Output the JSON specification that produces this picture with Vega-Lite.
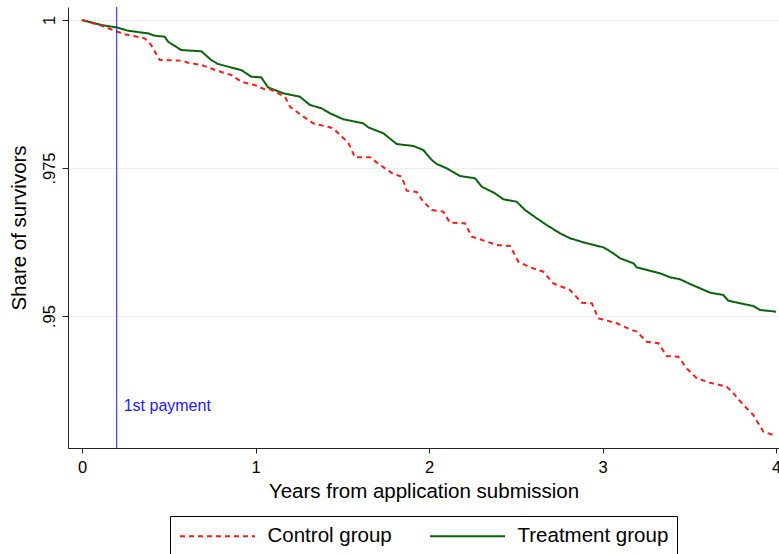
{
  "$schema": "https://vega.github.io/schema/vega-lite/v6.json",
  "autosize": {"type": "none"},
  "width": 711,
  "height": 441,
  "padding": {"left": 68, "top": 7, "right": 0, "bottom": 106},
  "background": "white",
  "config": {
    "view": {"stroke": null},
    "font": "Liberation Sans, Arial, sans-serif"
  },
  "datasets": {
    "curves": [
      {"group": "Treatment group", "x": 0, "y": 1.0},
      {"group": "Treatment group", "x": 0.111, "y": 0.99916},
      {"group": "Treatment group", "x": 0.207, "y": 0.9987},
      {"group": "Treatment group", "x": 0.265, "y": 0.99819},
      {"group": "Treatment group", "x": 0.38, "y": 0.99775},
      {"group": "Treatment group", "x": 0.419, "y": 0.99735},
      {"group": "Treatment group", "x": 0.477, "y": 0.99718},
      {"group": "Treatment group", "x": 0.496, "y": 0.99633},
      {"group": "Treatment group", "x": 0.572, "y": 0.99493},
      {"group": "Treatment group", "x": 0.688, "y": 0.99471},
      {"group": "Treatment group", "x": 0.745, "y": 0.99324},
      {"group": "Treatment group", "x": 0.784, "y": 0.99257},
      {"group": "Treatment group", "x": 0.918, "y": 0.99155},
      {"group": "Treatment group", "x": 0.976, "y": 0.99042},
      {"group": "Treatment group", "x": 1.033, "y": 0.99032},
      {"group": "Treatment group", "x": 1.072, "y": 0.98863},
      {"group": "Treatment group", "x": 1.16, "y": 0.98762},
      {"group": "Treatment group", "x": 1.256, "y": 0.98704},
      {"group": "Treatment group", "x": 1.314, "y": 0.98564},
      {"group": "Treatment group", "x": 1.382, "y": 0.98508},
      {"group": "Treatment group", "x": 1.429, "y": 0.98424},
      {"group": "Treatment group", "x": 1.506, "y": 0.98323},
      {"group": "Treatment group", "x": 1.621, "y": 0.98255},
      {"group": "Treatment group", "x": 1.65, "y": 0.98187},
      {"group": "Treatment group", "x": 1.737, "y": 0.98086},
      {"group": "Treatment group", "x": 1.814, "y": 0.97905},
      {"group": "Treatment group", "x": 1.91, "y": 0.97872},
      {"group": "Treatment group", "x": 1.967, "y": 0.97804},
      {"group": "Treatment group", "x": 2.016, "y": 0.97635},
      {"group": "Treatment group", "x": 2.044, "y": 0.97568},
      {"group": "Treatment group", "x": 2.102, "y": 0.97495},
      {"group": "Treatment group", "x": 2.179, "y": 0.97365},
      {"group": "Treatment group", "x": 2.265, "y": 0.97326},
      {"group": "Treatment group", "x": 2.304, "y": 0.97184},
      {"group": "Treatment group", "x": 2.38, "y": 0.97073},
      {"group": "Treatment group", "x": 2.428, "y": 0.96971},
      {"group": "Treatment group", "x": 2.505, "y": 0.96931},
      {"group": "Treatment group", "x": 2.553, "y": 0.96791},
      {"group": "Treatment group", "x": 2.621, "y": 0.9665},
      {"group": "Treatment group", "x": 2.678, "y": 0.96537},
      {"group": "Treatment group", "x": 2.755, "y": 0.96397},
      {"group": "Treatment group", "x": 2.813, "y": 0.96313},
      {"group": "Treatment group", "x": 2.909, "y": 0.96228},
      {"group": "Treatment group", "x": 3.005, "y": 0.9616},
      {"group": "Treatment group", "x": 3.062, "y": 0.96059},
      {"group": "Treatment group", "x": 3.101, "y": 0.95975},
      {"group": "Treatment group", "x": 3.178, "y": 0.9589},
      {"group": "Treatment group", "x": 3.197, "y": 0.95823},
      {"group": "Treatment group", "x": 3.274, "y": 0.95765},
      {"group": "Treatment group", "x": 3.331, "y": 0.95721},
      {"group": "Treatment group", "x": 3.389, "y": 0.95654},
      {"group": "Treatment group", "x": 3.447, "y": 0.9562},
      {"group": "Treatment group", "x": 3.504, "y": 0.95541},
      {"group": "Treatment group", "x": 3.562, "y": 0.95468},
      {"group": "Treatment group", "x": 3.62, "y": 0.95394},
      {"group": "Treatment group", "x": 3.696, "y": 0.95355},
      {"group": "Treatment group", "x": 3.725, "y": 0.95258},
      {"group": "Treatment group", "x": 3.793, "y": 0.95215},
      {"group": "Treatment group", "x": 3.869, "y": 0.95169},
      {"group": "Treatment group", "x": 3.908, "y": 0.95101},
      {"group": "Treatment group", "x": 3.984, "y": 0.95079},
      {"group": "Treatment group", "x": 4.0, "y": 0.9507},
      {"group": "Control group", "x": 0, "y": 1.0},
      {"group": "Control group", "x": 0.131, "y": 0.99887},
      {"group": "Control group", "x": 0.188, "y": 0.99819},
      {"group": "Control group", "x": 0.246, "y": 0.99758},
      {"group": "Control group", "x": 0.361, "y": 0.99691},
      {"group": "Control group", "x": 0.399, "y": 0.99578},
      {"group": "Control group", "x": 0.448, "y": 0.99324},
      {"group": "Control group", "x": 0.582, "y": 0.99313},
      {"group": "Control group", "x": 0.611, "y": 0.99279},
      {"group": "Control group", "x": 0.688, "y": 0.9924},
      {"group": "Control group", "x": 0.784, "y": 0.99139},
      {"group": "Control group", "x": 0.861, "y": 0.99071},
      {"group": "Control group", "x": 0.918, "y": 0.98958},
      {"group": "Control group", "x": 0.995, "y": 0.98902},
      {"group": "Control group", "x": 1.053, "y": 0.98829},
      {"group": "Control group", "x": 1.084, "y": 0.98829},
      {"group": "Control group", "x": 1.122, "y": 0.98772},
      {"group": "Control group", "x": 1.17, "y": 0.98704},
      {"group": "Control group", "x": 1.199, "y": 0.98535},
      {"group": "Control group", "x": 1.276, "y": 0.98367},
      {"group": "Control group", "x": 1.333, "y": 0.98255},
      {"group": "Control group", "x": 1.448, "y": 0.98171},
      {"group": "Control group", "x": 1.487, "y": 0.98057},
      {"group": "Control group", "x": 1.535, "y": 0.97927},
      {"group": "Control group", "x": 1.573, "y": 0.97681},
      {"group": "Control group", "x": 1.66, "y": 0.97681},
      {"group": "Control group", "x": 1.718, "y": 0.97551},
      {"group": "Control group", "x": 1.794, "y": 0.97399},
      {"group": "Control group", "x": 1.843, "y": 0.97353},
      {"group": "Control group", "x": 1.871, "y": 0.97117},
      {"group": "Control group", "x": 1.929, "y": 0.97095},
      {"group": "Control group", "x": 1.967, "y": 0.96931},
      {"group": "Control group", "x": 2.016, "y": 0.96791},
      {"group": "Control group", "x": 2.082, "y": 0.96762},
      {"group": "Control group", "x": 2.121, "y": 0.96576},
      {"group": "Control group", "x": 2.207, "y": 0.96566},
      {"group": "Control group", "x": 2.246, "y": 0.9634},
      {"group": "Control group", "x": 2.294, "y": 0.96296},
      {"group": "Control group", "x": 2.39, "y": 0.96199},
      {"group": "Control group", "x": 2.467, "y": 0.96182},
      {"group": "Control group", "x": 2.515, "y": 0.95917},
      {"group": "Control group", "x": 2.582, "y": 0.95823},
      {"group": "Control group", "x": 2.659, "y": 0.95748},
      {"group": "Control group", "x": 2.716, "y": 0.95552},
      {"group": "Control group", "x": 2.813, "y": 0.95439},
      {"group": "Control group", "x": 2.88, "y": 0.95225},
      {"group": "Control group", "x": 2.938, "y": 0.95215},
      {"group": "Control group", "x": 2.976, "y": 0.94961},
      {"group": "Control group", "x": 3.082, "y": 0.94877},
      {"group": "Control group", "x": 3.159, "y": 0.94775},
      {"group": "Control group", "x": 3.197, "y": 0.94735},
      {"group": "Control group", "x": 3.255, "y": 0.94566},
      {"group": "Control group", "x": 3.322, "y": 0.94539},
      {"group": "Control group", "x": 3.37, "y": 0.94324},
      {"group": "Control group", "x": 3.437, "y": 0.94312},
      {"group": "Control group", "x": 3.485, "y": 0.94117},
      {"group": "Control group", "x": 3.543, "y": 0.93948},
      {"group": "Control group", "x": 3.62, "y": 0.93873},
      {"group": "Control group", "x": 3.716, "y": 0.93806},
      {"group": "Control group", "x": 3.754, "y": 0.93694},
      {"group": "Control group", "x": 3.812, "y": 0.93497},
      {"group": "Control group", "x": 3.869, "y": 0.93328},
      {"group": "Control group", "x": 3.927, "y": 0.93046},
      {"group": "Control group", "x": 3.984, "y": 0.9299},
      {"group": "Control group", "x": 4.0, "y": 0.9299}
    ],
    "marker": [
      {"x": 0.2, "ylabel": 0.9348, "label": "1st payment"}
    ]
  },
  "layer": [
    {
      "data": {"name": "curves"},
      "mark": {"type": "line", "strokeWidth": 2, "clip": true},
      "encoding": {
        "x": {
          "field": "x", "type": "quantitative",
          "scale": {"domain": [-0.0807, 4.017], "nice": false, "zero": false},
          "axis": {
            "title": "Years from application submission",
            "values": [0, 1, 2, 3, 4], "format": "d",
            "grid": false,
            "domainColor": "#222", "tickColor": "#222", "tickSize": 5,
            "labelFontSize": 16.5, "labelColor": "#000", "labelPadding": 6,
            "titleFontSize": 20.5, "titleFontWeight": "normal", "titleColor": "#000", "titlePadding": 6
          }
        },
        "y": {
          "field": "y", "type": "quantitative",
          "scale": {"domain": [0.9277, 1.0022], "nice": false, "zero": false},
          "axis": {
            "title": "Share of survivors",
            "values": [0.95, 0.975, 1],
            "labelExpr": "datum.value == 1 ? '1' : replace(format(datum.value, '.3~f'), '0.', '.')",
            "labelAngle": -90, "labelAlign": "center", "labelBaseline": "bottom",
            "grid": true, "gridColor": "#e8f0f2", "gridWidth": 1.5,
            "domainColor": "#222", "tickColor": "#222", "tickSize": 6,
            "labelFontSize": 16.5, "labelColor": "#000", "labelPadding": 5,
            "titleFontSize": 20.5, "titleFontWeight": "normal", "titleColor": "#000", "titlePadding": 12
          }
        },
        "color": {
          "field": "group", "type": "nominal",
          "scale": {"domain": ["Control group", "Treatment group"], "range": ["#ff1a1a", "#0a640a"]},
          "legend": {
            "title": null,
            "orient": "none",
            "legendX": 102,
            "legendY": 509,
            "direction": "horizontal",
            "strokeColor": "#000",
            "fillColor": "#fff",
            "padding": 8,
            "symbolType": "M-3.41,0H3.41",
            "symbolSize": 484,
            "symbolOffset": 27.5,
            "symbolStrokeWidth": 2,
            "labelFontSize": 20.5,
            "labelColor": "#000",
            "labelOffset": 38,
            "columnPadding": 33,
            "labelLimit": 300
          }
        },
        "strokeDash": {
          "field": "group", "type": "nominal",
          "scale": {"domain": ["Control group", "Treatment group"], "range": [[5, 4], [1, 0]]}
        }
      }
    },
    {
      "data": {"name": "marker"},
      "mark": {"type": "rule", "color": "#1a1aff", "strokeWidth": 1},
      "encoding": {
        "x": {"field": "x", "type": "quantitative"}
      }
    },
    {
      "data": {"name": "marker"},
      "mark": {"type": "text", "color": "#1a1aff", "align": "left", "baseline": "middle", "dx": 7, "fontSize": 16},
      "encoding": {
        "x": {"field": "x", "type": "quantitative"},
        "y": {"field": "ylabel", "type": "quantitative"},
        "text": {"field": "label"}
      }
    }
  ]
}
